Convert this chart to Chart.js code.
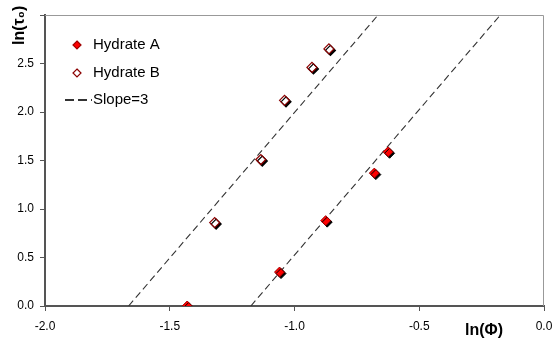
<!DOCTYPE html>
<html>
<head>
<meta charset="utf-8">
<script src="https://cdn.jsdelivr.net/npm/chart.js@4"></script>
<style>
  html, body { margin: 0; padding: 0; background: #fff; }
  #wrap { width: 554px; height: 342px; }
</style>
</head>
<body>
<div id="wrap"><canvas id="chart" width="554" height="342"></canvas></div>
<script>
// values
const hydrateA_x = [-1.43, -1.06, -0.875, -0.68, -0.625];
const hydrateA_y = [0.0, 0.35, 0.88, 1.37, 1.59];
const hydrateB_x = [-1.32, -1.135, -1.04, -0.93, -0.862];
const hydrateB_y = [0.86, 1.51, 2.12, 2.46, 2.65];
// dashed lines of slope 3, given by where they cross y = 0
const slope = 3;
const slopeIntercepts = [-1.175, -1.665];
const slopeYRange = [0, 3];
const xTicks = [-2.0, -1.5, -1.0, -0.5, 0.0];
const yTicks = [0.0, 0.5, 1.0, 1.5, 2.0, 2.5, 3.0];

const pts = (xs, ys) => xs.map((x, i) => ({ x: x, y: ys[i] }));
const slopeLine = (x0) => slopeYRange.map((y) => ({ x: x0 + y / slope, y: y }));

const FONT = "'Liberation Sans', Arial, sans-serif";

// black drop shadow under the markers, like the Excel original
const shadowPlugin = {
  id: "shadow",
  beforeDatasetDraw(chart, args) {
    if (!args.meta._dataset.shadow) return;
    const ctx = chart.ctx;
    ctx.save();
    ctx.shadowColor = "#000";
    ctx.shadowOffsetX = 1.5;
    ctx.shadowOffsetY = 1.5;
    ctx.shadowBlur = 0;
  },
  afterDatasetDraw(chart, args) {
    if (!args.meta._dataset.shadow) return;
    chart.ctx.restore();
  }
};

// frame, axis titles and the legend inside the plot
const decoPlugin = {
  id: "deco",
  beforeDatasetsDraw(chart) {
    const { ctx, chartArea: a } = chart;
    ctx.save();
    ctx.strokeStyle = "#999";
    ctx.lineWidth = 1;
    ctx.beginPath();
    ctx.moveTo(a.left, a.top + 0.5);
    ctx.lineTo(a.right - 0.5, a.top + 0.5);
    ctx.lineTo(a.right - 0.5, a.bottom);
    ctx.stroke();
    ctx.restore();
  },
  afterDraw(chart) {
    const ctx = chart.ctx;
    ctx.save();
    ctx.fillStyle = "#000";
    ctx.font = "bold 16px " + FONT;
    ctx.textBaseline = "middle";
    ctx.textAlign = "left";
    ctx.fillText("ln(Φ)", 465, 331);

    ctx.translate(20, 45);
    ctx.rotate(-Math.PI / 2);
    ctx.fillText("ln(τ₀)", 0, 0);
    ctx.restore();

    // legend
    ctx.save();
    ctx.font = "15px " + FONT;
    ctx.textBaseline = "middle";
    ctx.fillStyle = "#000";
    const ds = chart.data.datasets;
    const rows = [45, 73, 100];
    [0, 1].forEach((i) => {
      const y = rows[i];
      ctx.save();
      ctx.fillStyle = ds[i].backgroundColor;
      ctx.strokeStyle = ds[i].borderColor;
      ctx.lineWidth = 1.2;
      ctx.beginPath();
      ctx.moveTo(77, y - 4);
      ctx.lineTo(81, y);
      ctx.lineTo(77, y + 4);
      ctx.lineTo(73, y);
      ctx.closePath();
      ctx.fill();
      ctx.stroke();
      ctx.restore();
      ctx.fillText(ds[i].label, 93, y);
    });
    ctx.strokeStyle = "#333";
    ctx.lineWidth = 2;
    ctx.setLineDash([9, 4]);
    ctx.beginPath();
    ctx.moveTo(65, rows[2]);
    ctx.lineTo(92, rows[2]);
    ctx.stroke();
    ctx.setLineDash([]);
    ctx.fillText("Slope=3", 93, rows[2]);
    ctx.restore();
  }
};

const tickFont = { family: FONT, size: 12 };

new Chart(document.getElementById("chart"), {
  type: "scatter",
  data: {
    datasets: [
      {
        label: "Hydrate A",
        data: pts(hydrateA_x, hydrateA_y),
        pointStyle: "rectRot",
        pointRadius: 5,
        pointHoverRadius: 5,
        backgroundColor: "#ff0000",
        borderColor: "#a00000",
        borderWidth: 1,
        shadow: true,
        order: 1
      },
      {
        label: "Hydrate B",
        data: pts(hydrateB_x, hydrateB_y),
        pointStyle: "rectRot",
        pointRadius: 5,
        pointHoverRadius: 5,
        backgroundColor: "#ffffff",
        borderColor: "#8b0000",
        borderWidth: 1.2,
        shadow: true,
        order: 2
      },
      {
        label: "Slope=3",
        type: "line",
        data: slopeLine(slopeIntercepts[0]),
        borderColor: "#333",
        borderWidth: 1.1,
        borderDash: [7, 4],
        pointRadius: 0,
        fill: false,
        order: 3
      },
      {
        label: "Slope=3 (B)",
        type: "line",
        data: slopeLine(slopeIntercepts[1]),
        borderColor: "#333",
        borderWidth: 1.1,
        borderDash: [7, 4],
        pointRadius: 0,
        fill: false,
        order: 4
      }
    ]
  },
  options: {
    responsive: false,
    animation: false,
    layout: { padding: { top: 15, right: 10, left: 0, bottom: 0 } },
    plugins: { legend: { display: false }, tooltip: { enabled: false } },
    scales: {
      x: {
        type: "linear",
        min: xTicks[0],
        max: xTicks[xTicks.length - 1],
        afterBuildTicks: (s) => { s.ticks = xTicks.map((v) => ({ value: v })); },
        afterFit: (s) => { s.height = 36; s.paddingLeft = 0; s.paddingRight = 0; },
        ticks: {
          font: tickFont,
          color: "#000",
          padding: 8,
          maxRotation: 0,
          callback: (v) => v.toFixed(1)
        },
        grid: { drawOnChartArea: false, drawTicks: true, tickLength: 5, color: "#555" },
        border: { display: true, color: "#555", width: 2 }
      },
      y: {
        type: "linear",
        min: yTicks[0],
        max: yTicks[yTicks.length - 1],
        afterBuildTicks: (s) => { s.ticks = yTicks.map((v) => ({ value: v })); },
        afterFit: (s) => { s.width = 45; s.paddingTop = 0; s.paddingBottom = 0; },
        ticks: {
          font: tickFont,
          color: "#000",
          padding: 6,
          callback: (v) => (v === 3 ? "" : v.toFixed(1))
        },
        grid: { drawOnChartArea: false, drawTicks: true, tickLength: 5, color: "#555" },
        border: { display: true, color: "#555", width: 2 }
      }
    }
  },
  plugins: [shadowPlugin, decoPlugin]
});
</script>
</body>
</html>
